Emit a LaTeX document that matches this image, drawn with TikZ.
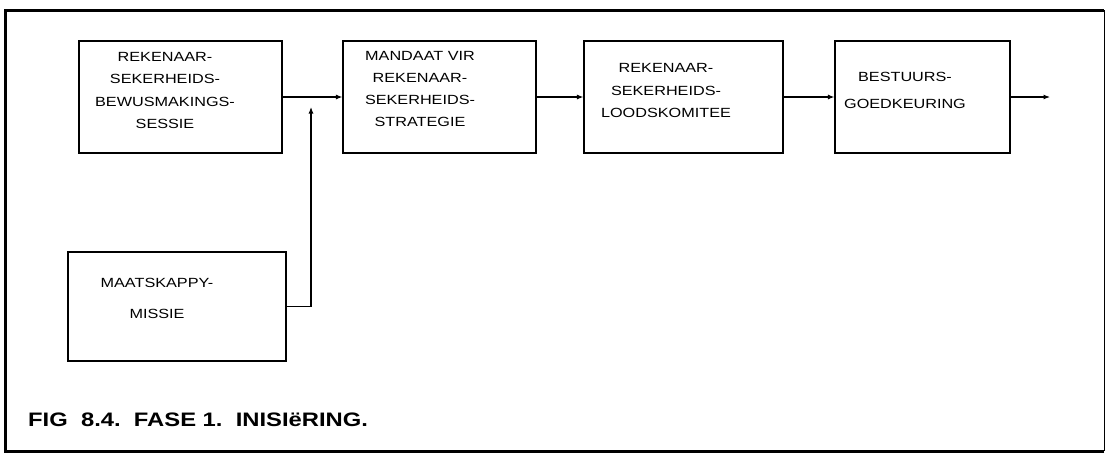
\documentclass[tikz,border=0pt]{standalone}
\usepackage{fontspec}
\setmainfont{Liberation Sans}[FakeStretch=1.22]
\usetikzlibrary{arrows.meta}

\begin{document}
\begin{tikzpicture}[x=1pt,y=-1pt,>={Latex[length=6.5pt,width=5pt]},
    blok/.style={draw,line width=1.1pt,minimum height=112pt,inner sep=0pt},
    teks/.style={align=center,inner sep=0pt,font=\fontsize{13.3}{22.3}\selectfont},
    pyl/.style={->,line width=1.1pt}]
    \useasboundingbox (0,0) rectangle (1106,453);
    % raam
    \draw[line width=3pt] (1104,451) -- (5,451) -- (5,10) -- (1104,10);
    \draw[line width=1pt] (1104,10) -- (1104,451);
    % blokke
    \node[blok,minimum width=203pt] (bewus) at (180.5,97) {};
    \node[blok,minimum width=193pt] (mandaat) at (439.5,97) {};
    \node[blok,minimum width=199pt] (komitee) at (683.5,97) {};
    \node[blok,minimum width=175pt] (bestuur) at (922.5,97) {};
    \node[blok,minimum width=218pt,minimum height=109pt] (missie) at (177,306.5) {};
    % teks
    \node[teks] (tbewus) at (165,90.5) {REKENAAR-\\SEKERHEIDS-\\BEWUSMAKINGS-\\SESSIE};
    \node[teks] (tmandaat) at (420,89) {MANDAAT VIR\\REKENAAR-\\SEKERHEIDS-\\STRATEGIE};
    \node[teks] (tkomitee) at (666,90.5) {REKENAAR-\\SEKERHEIDS-\\LOODSKOMITEE};
    \node[teks,font=\fontsize{13.3}{27}\selectfont] (tbestuur) at (905,90.5) {BESTUURS-\\GOEDKEURING};
    \node[teks,font=\fontsize{13.3}{31}\selectfont] (tmissie) at (157,298.5) {MAATSKAPPY-\\MISSIE};
    % pyle
    \coordinate (las) at (311,107);
    \coordinate (uit) at (1050,97);
    \draw[pyl] (bewus) -- (mandaat);
    \draw[pyl] (mandaat) -- (komitee);
    \draw[pyl] (komitee) -- (bestuur);
    \draw[pyl] (bestuur) -- (uit);
    \draw[pyl] (missie.east) -| (las);
    % onderskrif
    \node[anchor=west,inner sep=0pt,font=\fontsize{19.5}{22}\selectfont\bfseries] (fig) at (28,420)
      {FIG~~8.4.~~FASE~1.~~INISIëRING.};
\end{tikzpicture}
\end{document}
